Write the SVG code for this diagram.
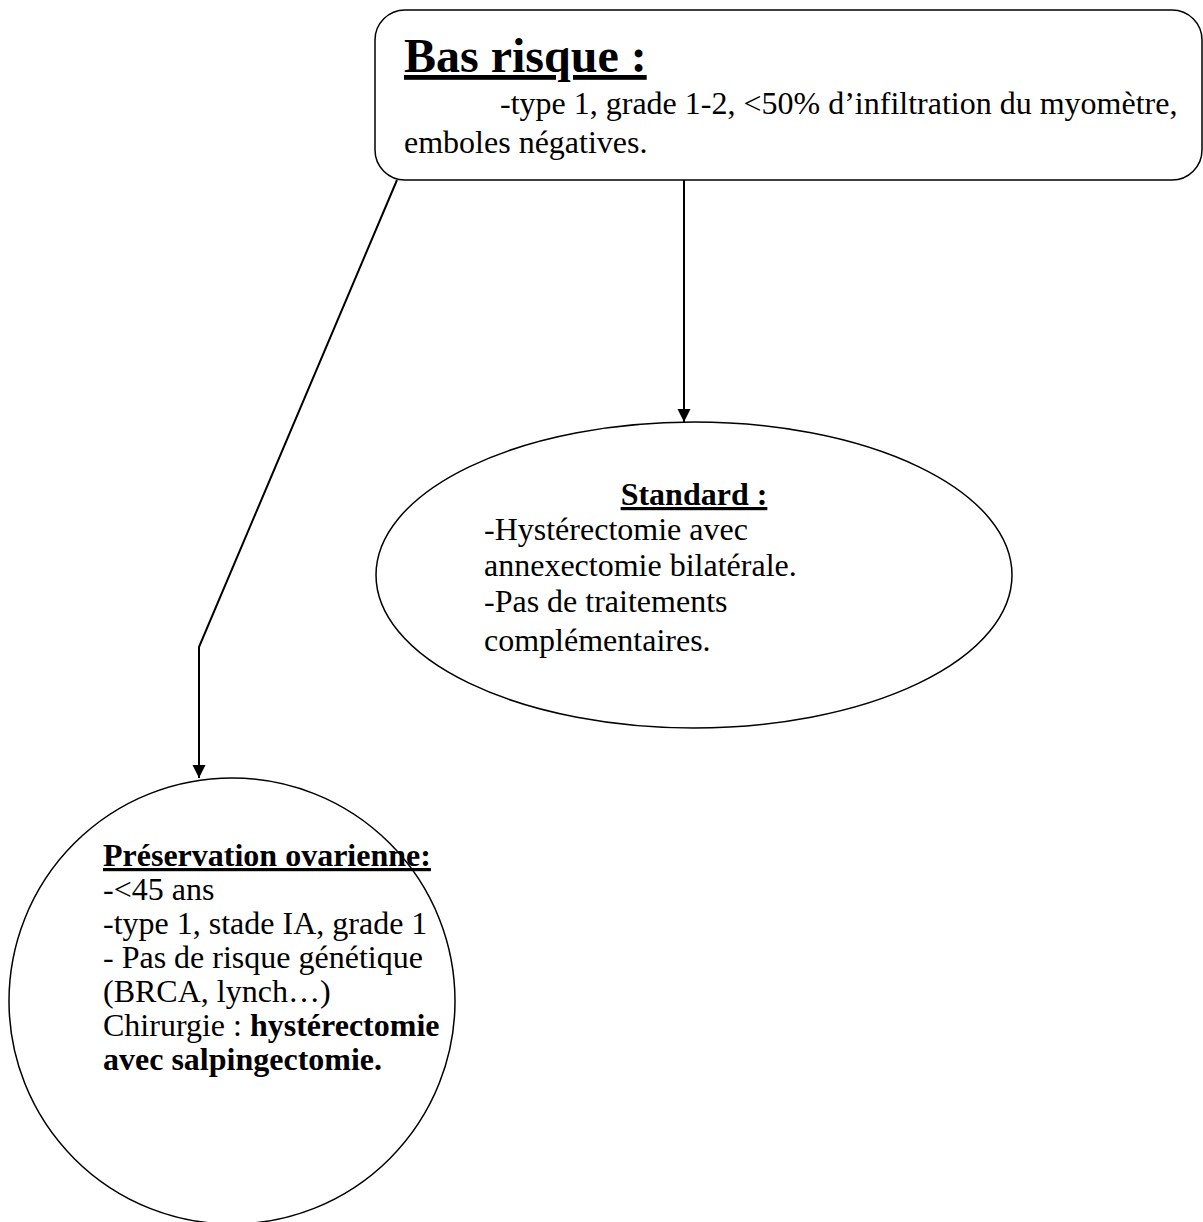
<svg xmlns="http://www.w3.org/2000/svg" width="1203" height="1222" viewBox="0 0 1203 1222">
<style>
.shape{fill:#fff;stroke:#000;stroke-width:1.5}
.conn{fill:none;stroke:#000;stroke-width:2}
text{font-family:"Liberation Serif","Times New Roman",serif;fill:#000}
.t{font-size:32px}
.h{font-weight:bold;text-decoration:underline}
.b{font-weight:bold}
</style>
<defs>
<marker id="arr" viewBox="0 0 10 10" refX="10" refY="5" markerWidth="13" markerHeight="14" markerUnits="userSpaceOnUse" orient="auto">
<path d="M0,0 L10,5 L0,10 z" fill="#000"/>
</marker>
</defs>
<rect width="1203" height="1222" fill="#fff"/>
<g id="connectors">
<line class="conn" x1="684" y1="180" x2="684" y2="422" marker-end="url(#arr)"/>
<polyline class="conn" points="397,180 199,647 199,778" marker-end="url(#arr)"/>
</g>
<g id="bas-risque">
<rect class="shape" x="375" y="10" width="827" height="170" rx="30" ry="30"/>
<text x="404" y="72" class="h" style="font-size:48px">Bas risque :</text>
<text x="500" y="114" class="t">-type 1, grade 1-2, &lt;50% d’infiltration du myomètre,</text>
<text x="404" y="153" class="t">emboles négatives.</text>
</g>
<g id="standard">
<ellipse class="shape" cx="694" cy="575" rx="318" ry="153"/>
<text x="694" y="505" class="t h" text-anchor="middle">Standard :</text>
<text x="484" y="540" class="t">-Hystérectomie avec</text>
<text x="484" y="576" class="t">annexectomie bilatérale.</text>
<text x="484" y="612" class="t">-Pas de traitements</text>
<text x="484" y="651" class="t">complémentaires.</text>
</g>
<g id="preservation">
<ellipse class="shape" cx="232" cy="1001" rx="223" ry="223"/>
<text x="103" y="866" class="t h">Préservation ovarienne:</text>
<text x="103" y="900" class="t">-&lt;45 ans</text>
<text x="103" y="934" class="t">-type 1, stade IA, grade 1</text>
<text x="103" y="968" class="t">- Pas de risque génétique</text>
<text x="103" y="1002" class="t">(BRCA, lynch…)</text>
<text x="103" y="1036" class="t">Chirurgie : <tspan class="b">hystérectomie</tspan></text>
<text x="103" y="1070" class="t b">avec salpingectomie.</text>
</g>
</svg>
